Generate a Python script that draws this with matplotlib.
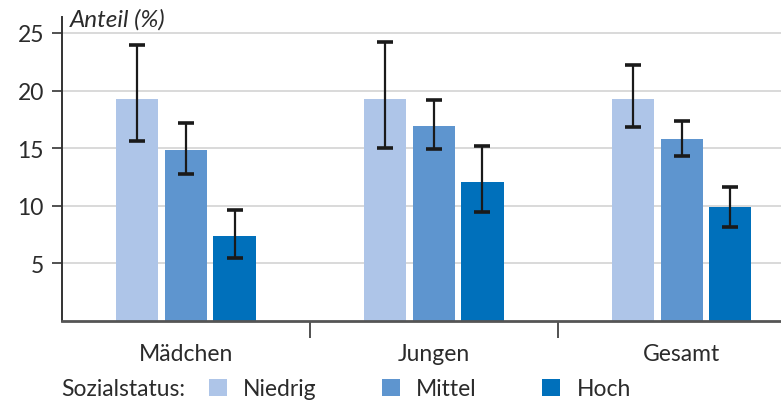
import numpy as np
import matplotlib
matplotlib.use('Agg')
import matplotlib.pyplot as plt

plt.rcParams['font.family'] = ['Lato', 'DejaVu Sans']

groups = ['Mädchen', 'Jungen', 'Gesamt']
status = ['Niedrig', 'Mittel', 'Hoch']
colors = ['#aec5e8', '#5e95cf', '#0070bb']

# Anteil (%) je Gruppe und Sozialstatus, dazu Konfidenzgrenzen
values = {
    'Niedrig': [19.3, 19.3, 19.3],
    'Mittel': [14.8, 16.9, 15.8],
    'Hoch': [7.4, 12.1, 9.9],
}
lower = {
    'Niedrig': [15.6, 15.0, 16.8],
    'Mittel': [12.8, 14.9, 14.3],
    'Hoch': [5.5, 9.5, 8.2],
}
upper = {
    'Niedrig': [24.0, 24.2, 22.2],
    'Mittel': [17.2, 19.2, 17.4],
    'Hoch': [9.6, 15.2, 11.6],
}
yticks = [5, 10, 15, 20, 25]

fs = 16.5
txt = '#2b2b2b'

fig = plt.figure(figsize=(7.81, 4.06), dpi=100)
ax = fig.add_axes([0.0794, 0.207, 0.9206, 0.749])

x = np.arange(len(groups))
w = 0.17
step = 0.196
handles = []
for i, s in enumerate(status):
    v = np.array(values[s])
    err = np.array([v - np.array(lower[s]), np.array(upper[s]) - v])
    pos = x + (i - 1) * step
    b = ax.bar(pos, v, width=w, color=colors[i], zorder=2)
    handles.append(b)
    ax.errorbar(pos, v, yerr=err, fmt='none', ecolor='#1a1a1a', elinewidth=1.6,
                capsize=6, capthick=2.6, zorder=3)

ax.set_xlim(-0.5, 2.4)
ax.set_ylim(0, 26.4)
ax.set_yticks(yticks)
ax.set_yticklabels([str(t) for t in yticks], fontsize=fs, color=txt)
ax.yaxis.grid(True, color='#d9d9d9', linewidth=1.4, zorder=0)
ax.set_axisbelow(True)
ax.tick_params(axis='y', length=7, width=1.2, color='#333333', pad=6)

ax.set_xticks([0.5, 1.5])
ax.set_xticklabels([])
ax.tick_params(axis='x', length=12, width=1.2, color='#333333', direction='out')
for xi, g in zip(x, groups):
    ax.text(xi, -2.8, g, ha='center', va='center', fontsize=fs, color=txt)

for side in ['top', 'right']:
    ax.spines[side].set_visible(False)
ax.spines['left'].set_color('#333333')
ax.spines['left'].set_linewidth(1.4)
ax.spines['bottom'].set_color('#555555')
ax.spines['bottom'].set_linewidth(2)

fig.text(0.089, 0.951, 'Anteil (%)', fontsize=17.5, style='italic', color=txt,
         ha='left', va='center')

fig.text(0.079, 0.04, 'Sozialstatus:', fontsize=fs, color=txt, ha='left', va='center')
leg = fig.legend(handles, status, loc='center left', bbox_to_anchor=(0.267, 0.04),
                 ncol=3, frameon=False, fontsize=fs, handlelength=0.8, handleheight=0.8,
                 handletextpad=0.7, columnspacing=2.85, borderaxespad=0, borderpad=0)
for t in leg.get_texts():
    t.set_color(txt)

fig.savefig('out.png', dpi=100)
